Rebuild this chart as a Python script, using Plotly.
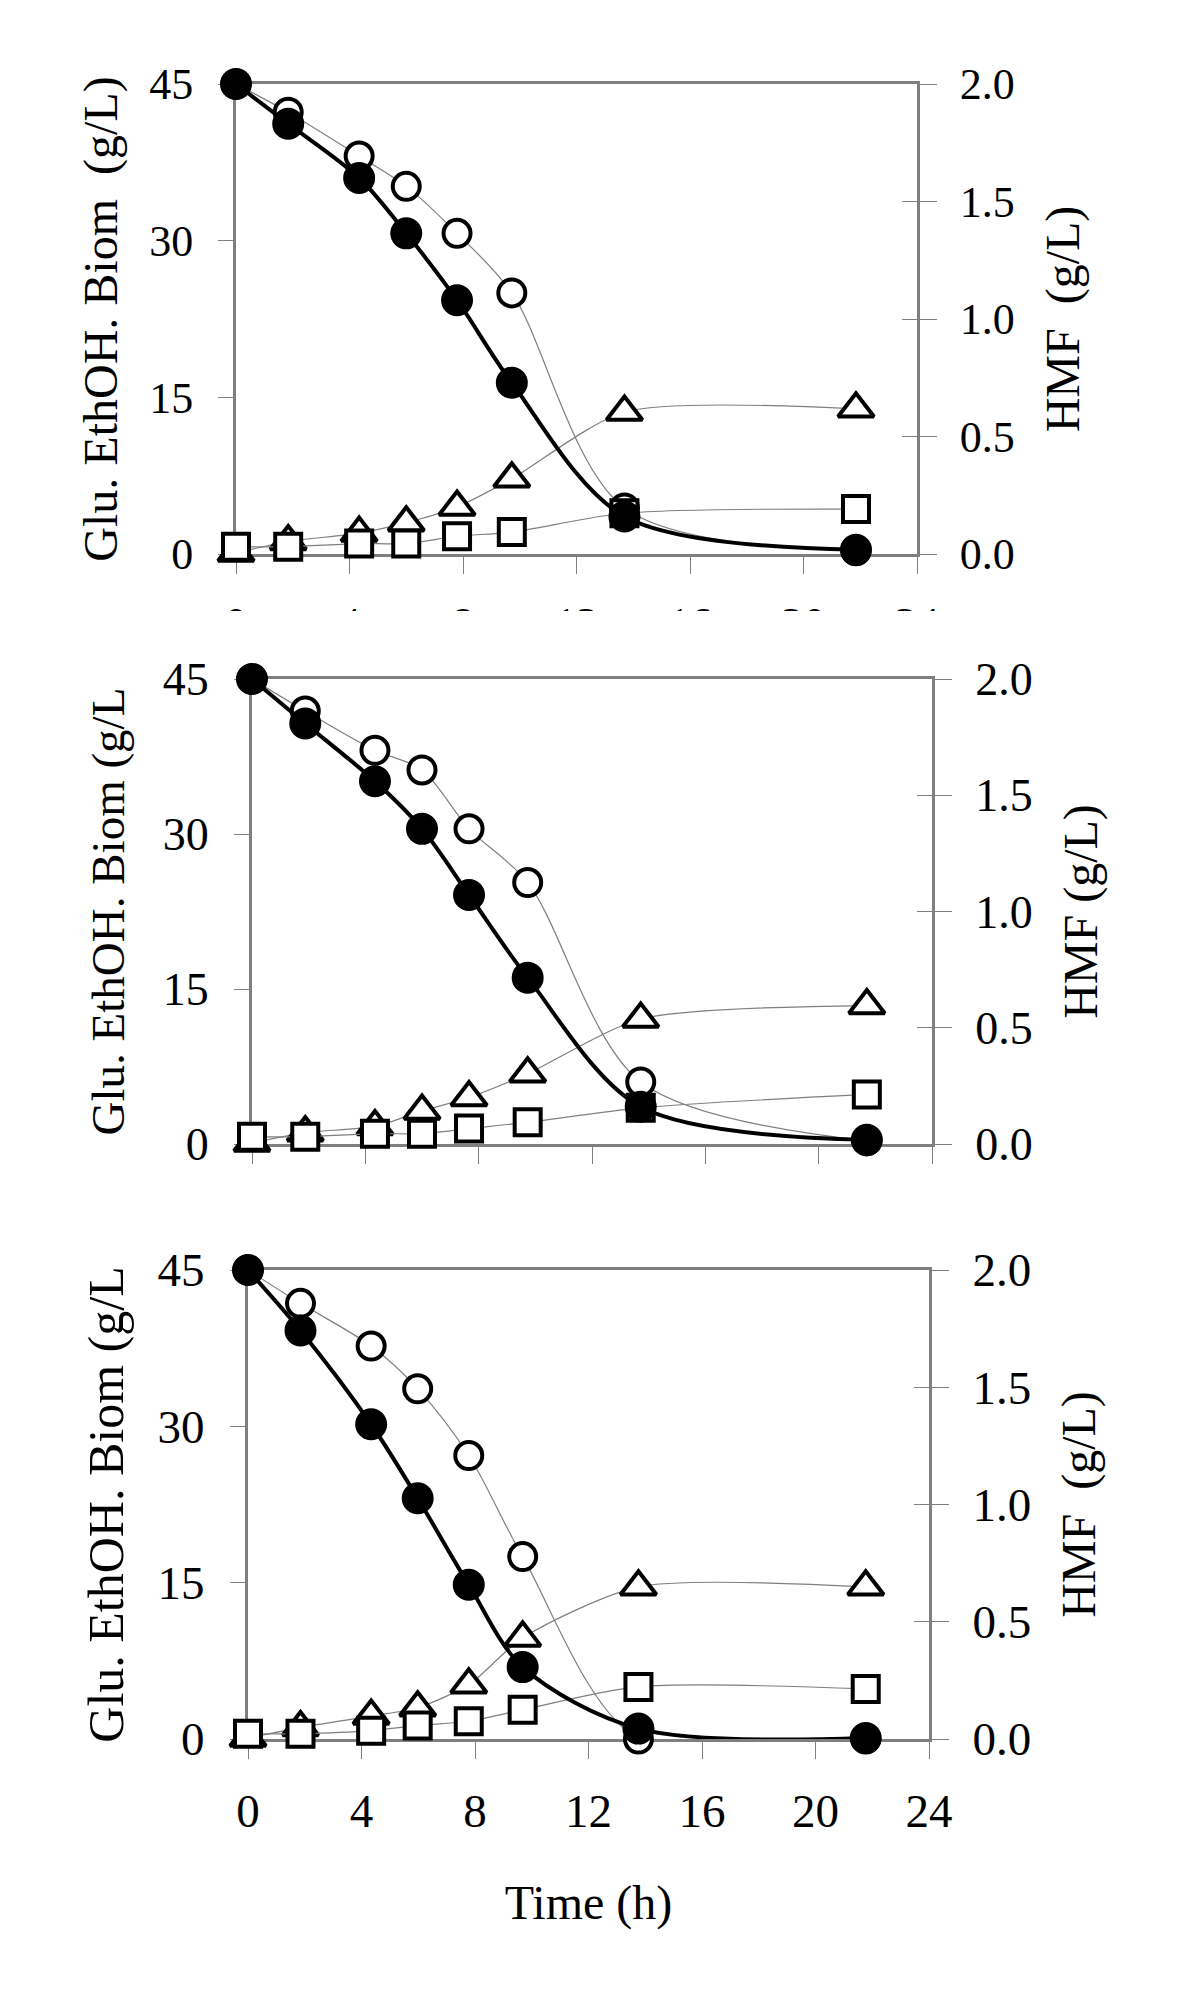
import plotly.graph_objects as go

# ---------------- data ----------------
X_TICKS = [0, 4, 8, 12, 16, 20, 24]
Y_TICKS = [0, 15, 30, 45]
Y2_TICKS = [0.0, 0.5, 1.0, 1.5, 2.0]

# panel 1 (top)
time_1 = [0, 1.84, 4.34, 6.0, 7.79, 9.72, 13.69, 21.85]
filled_1 = [45.0, 41.2, 36.0, 30.7, 24.3, 16.4, 3.6, 0.4]
open_1 = [45.0, 42.3, 38.1, 35.2, 30.7, 25.0, 4.4, 0.3]
triangle_1 = [0.1, 1.2, 2.0, 3.0, 4.5, 7.2, 13.6, 13.9]
square_1 = [0.7, 0.7, 1.0, 1.0, 1.7, 2.1, 3.9, 4.3]

# panel 2 (middle)
time_2 = [0, 1.88, 4.34, 6.0, 7.66, 9.73, 13.72, 21.7]
filled_2 = [45.0, 40.7, 35.1, 30.5, 24.1, 16.1, 3.6, 0.4]
open_2 = [45.0, 41.9, 38.1, 36.2, 30.5, 25.3, 6.0, 0.3]
triangle_2 = [0.1, 1.1, 1.7, 3.2, 4.5, 6.8, 12.1, 13.4]
square_2 = [0.7, 0.7, 1.0, 1.0, 1.5, 2.1, 3.5, 4.8]

# panel 3 (bottom)
time_3 = [0, 1.85, 4.34, 5.98, 7.78, 9.68, 13.76, 21.77]
filled_3 = [45.0, 39.2, 30.2, 23.1, 14.8, 6.9, 1.0, 0.1]
open_3 = [45.0, 41.8, 37.7, 33.6, 27.2, 17.5, 0.0, 0.0]
triangle_3 = [0.1, 1.1, 2.2, 3.0, 5.2, 9.7, 14.6, 14.6]
square_3 = [0.5, 0.5, 0.8, 1.3, 1.7, 2.8, 5.0, 4.8]

left_titles = ["Glu. EthOH. Biom\u00a0\u00a0(g/L)", "Glu. EthOH. Biom (g/L", "Glu. EthOH. Biom (g/L"]
right_titles = ["HMF\u00a0\u00a0(g/L)", "HMF (g/L)", "HMF\u00a0\u00a0(g/L)"]
x_title = "Time (h)"

# ---------------- layout configuration ----------------
W, H = 1200, 2014
OFF = 8  # page body margin of the html page
FONT = "Liberation Serif"
GRAY = "#7f7f7f"

panels = [
    dict(t=time_1, filled=filled_1, open=open_1, tri=triangle_1, sq=square_1,
         box=(236, 917, 84, 554), fs=44, tfs=48, tstand=17, xlabels=True, xstand=11, xtitle=False),
    dict(t=time_2, filled=filled_2, open=open_2, tri=triangle_2, sq=square_2,
         box=(252, 932, 679, 1144), fs=46, tfs=47, tstand=24, xlabels=False, xstand=12, xtitle=False),
    dict(t=time_3, filled=filled_3, open=open_3, tri=triangle_3, sq=square_3,
         box=(248, 929, 1270, 1739), fs=47, tfs=50, tstand=19, xlabels=True, xstand=12, xtitle=True),
]

fig = go.Figure()
layout = {}

for i, P in enumerate(panels):
    xn = "" if i == 0 else str(i + 1)
    yl = "" if i == 0 else str(3 * i + 1)
    yr = str(3 * i + 2)
    yi = str(3 * i + 3)
    x0, x1, ytop, ybot = P["box"]
    xdom = [(x0 - OFF) / W, (x1 - OFF) / W]
    ydom = [1 - (ybot - OFF) / H, 1 - (ytop - OFF) / H]
    fs = P["fs"]
    tfont = dict(family=FONT, size=fs, color="black")

    common = dict(x=P["t"], xaxis="x" + xn, yaxis="y" + yl, cliponaxis=False,
                  showlegend=False, mode="lines+markers")
    fig.add_trace(go.Scatter(
        y=P["open"], name="open circles",
        line=dict(color=GRAY, width=1.2, shape="spline", smoothing=0.9),
        marker=dict(symbol="circle", size=27, color="white",
                    line=dict(color="black", width=4)), **common))
    fig.add_trace(go.Scatter(
        y=P["tri"], name="triangles",
        line=dict(color=GRAY, width=1.2, shape="spline", smoothing=0.7),
        marker=dict(symbol="triangle-up", size=31, color="white",
                    line=dict(color="black", width=4)), **common))
    fig.add_trace(go.Scatter(
        y=P["sq"], name="squares",
        line=dict(color=GRAY, width=1.2, shape="spline", smoothing=0.8),
        marker=dict(symbol="square", size=26, color="white",
                    line=dict(color="black", width=4)), **common))
    fig.add_trace(go.Scatter(
        y=P["filled"], name="filled circles",
        line=dict(color="black", width=4, shape="spline", smoothing=0.9),
        marker=dict(symbol="circle", size=30, color="black",
                    line=dict(color="black", width=2)), **common))
    # right-hand axes (HMF scale)
    fig.add_trace(go.Scatter(x=[], y=[], xaxis="x" + xn, yaxis="y" + yr,
                             showlegend=False, hoverinfo="skip"))
    fig.add_trace(go.Scatter(x=[], y=[], xaxis="x" + xn, yaxis="y" + yi,
                             showlegend=False, hoverinfo="skip"))

    layout["xaxis" + xn] = dict(
        domain=xdom, anchor="y" + yl, range=[0, 24], tickvals=X_TICKS,
        ticks="outside", ticklen=17, tickwidth=1, tickcolor=GRAY,
        showline=True, linecolor=GRAY, linewidth=3, mirror=True,
        showgrid=False, zeroline=False, tickfont=tfont,
        showticklabels=P["xlabels"], ticklabelstandoff=P["xstand"],
        layer="below traces", automargin=False,
        title=dict(text=x_title if P["xtitle"] else "",
                   font=dict(family=FONT, size=48, color="black"), standoff=50),
    )
    layout["yaxis" + yl] = dict(
        domain=ydom, anchor="x" + xn, range=[0, 45], tickvals=Y_TICKS,
        ticks="outside", ticklen=15, tickwidth=1, tickcolor=GRAY,
        showline=True, linecolor=GRAY, linewidth=3,
        showgrid=False, zeroline=False, tickfont=tfont, ticklabelstandoff=16,
        layer="below traces", automargin=False,
        title=dict(text=left_titles[i], font=dict(family=FONT, size=P["tfs"], color="black"),
                   standoff=P["tstand"]),
    )
    layout["yaxis" + yr] = dict(
        domain=ydom, overlaying="y" + yl, side="right", anchor="x" + xn,
        range=[0, 2], tickvals=Y2_TICKS, tickformat=".1f",
        ticks="outside", ticklen=17, tickwidth=1, tickcolor=GRAY,
        showline=True, linecolor=GRAY, linewidth=3,
        showgrid=False, zeroline=False, tickfont=tfont, ticklabelstandoff=14,
        layer="below traces", automargin=False,
        title=dict(text=right_titles[i], font=dict(family=FONT, size=48, color="black"),
                   standoff=32),
    )
    layout["yaxis" + yi] = dict(
        domain=ydom, overlaying="y" + yl, side="right", anchor="x" + xn,
        range=[0, 2], tickvals=Y2_TICKS, ticks="inside", ticklen=15, tickwidth=1,
        tickcolor=GRAY, showticklabels=False, showline=False, showgrid=False,
        zeroline=False, layer="below traces", automargin=False,
    )

fig.update_layout(
    template="none",
    width=W, height=H, margin=dict(l=0, r=0, t=0, b=0, pad=0),
    paper_bgcolor="white", plot_bgcolor="white", showlegend=False,
    font=dict(family=FONT, color="black"),
    **layout,
)

# the top panel's time labels are cropped in the original figure
fig.add_shape(type="rect", xref="paper", yref="paper",
              x0=0.05, x1=0.95, y0=1 - (662 - OFF) / H, y1=1 - (611 - OFF) / H,
              fillcolor="white", line=dict(width=0), layer="above")

fig.write_html("out.html")
